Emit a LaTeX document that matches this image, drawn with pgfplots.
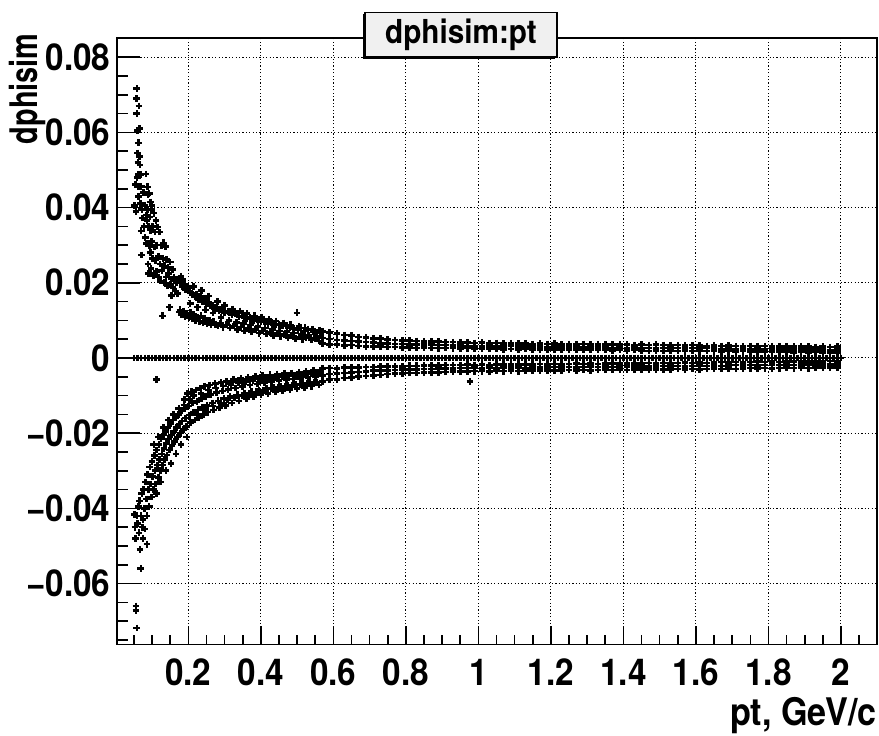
\documentclass[border=0pt]{standalone}
\usepackage{fontspec}
\usepackage{pgfplots}
\usepackage{pgfplotstable}
\pgfplotsset{compat=1.18}
\newfontfamily\rootfont{TeX Gyre Heros}[FakeStretch=0.9]
\newfontfamily\rootfontB{TeX Gyre Heros}[FakeStretch=0.76]
\pgfplotsset{pts/.style={black, only marks, mark=+, mark size=1.7pt, mark options={line width=1.3pt, solid}}}

\pgfplotstableread{
x u1 u2 u3 l1 l2 l3
0.57 0.0071 0.0053 0.0038 -0.0028 -0.0046 -0.0063
0.59 0.0067 0.0050 0.0036 -0.0027 -0.0043 -0.0058
0.61 0.0065 0.0048 0.0035 -0.0028 -0.0041 -0.0057
0.63 0.0061 0.0047 0.0033 -0.0026 -0.0040 -0.0053
0.65 0.0059 0.0045 0.0034 -0.0025 -0.0039 -0.0052
0.67 0.0056 0.0043 0.0032 -0.0026 -0.0037 -0.0049
0.69 0.0055 0.0042 0.0031 -0.0024 -0.0036 -0.0048
0.71 0.0052 0.0041 0.0030 -0.0024 -0.0034 -0.0046
0.73 0.0051 0.0039 0.0030 -0.0023 -0.0034 -0.0045
0.75 0.0049 0.0039 0.0029 -0.0022 -0.0033 -0.0043
0.77 0.0048 0.0037 0.0029 -0.0023 -0.0032 -0.0042
0.79 0.0047 0.0037 0.0028 -0.0022 -0.0031 -0.0041
0.81 0.0046 0.0036 0.0028 -0.0021 -0.0031 -0.0040
0.83 0.0045 0.0036 0.0027 -0.0021 -0.0030 -0.0040
0.85 0.0044 0.0035 0.0028 -0.0020 -0.0029 -0.0039
0.87 0.0043 0.0035 0.0027 -0.0020 -0.0029 -0.0038
0.89 0.0043 0.0034 0.0026 -0.0020 -0.0028 -0.0038
0.91 0.0042 0.0034 0.0027 -0.0019 -0.0028 -0.0037
0.93 0.0042 0.0033 0.0026 -0.0019 -0.0028 -0.0036
0.95 0.0041 0.0033 0.0025 -0.0019 -0.0027 -0.0036
0.97 0.0041 0.0032 0.0026 -0.0018 -0.0027 -0.0036
0.99 0.0040 0.0032 0.0025 -0.0019 -0.0026 -0.0035
1.01 0.0041 0.0031 0.0024 -0.0018 -0.0028 -0.0035
1.03 0.0039 0.0032 0.0025 -0.0019 -0.0026 -0.0036
1.05 0.0040 0.0030 0.0024 -0.0018 -0.0027 -0.0034
1.07 0.0038 0.0031 0.0023 -0.0017 -0.0026 -0.0035
1.09 0.0039 0.0032 0.0024 -0.0018 -0.0025 -0.0034
1.11 0.0038 0.0030 0.0023 -0.0017 -0.0026 -0.0035
1.13 0.0039 0.0031 0.0024 -0.0018 -0.0027 -0.0034
1.15 0.0037 0.0030 0.0023 -0.0017 -0.0025 -0.0033
1.17 0.0038 0.0031 0.0022 -0.0016 -0.0026 -0.0034
1.19 0.0037 0.0029 0.0023 -0.0017 -0.0025 -0.0033
1.21 0.0038 0.0030 0.0022 -0.0016 -0.0024 -0.0034
1.23 0.0036 0.0029 0.0023 -0.0017 -0.0025 -0.0033
1.25 0.0037 0.0030 0.0022 -0.0016 -0.0024 -0.0032
1.27 0.0036 0.0028 0.0021 -0.0015 -0.0025 -0.0033
1.29 0.0037 0.0029 0.0022 -0.0016 -0.0024 -0.0032
1.31 0.0036 0.0028 0.0021 -0.0015 -0.0023 -0.0033
1.33 0.0035 0.0029 0.0022 -0.0016 -0.0024 -0.0032
1.35 0.0036 0.0028 0.0021 -0.0015 -0.0023 -0.0031
1.37 0.0035 0.0027 0.0020 -0.0014 -0.0024 -0.0032
1.39 0.0036 0.0028 0.0021 -0.0015 -0.0023 -0.0031
1.41 0.0035 0.0027 0.0020 -0.0014 -0.0022 -0.0032
1.43 0.0034 0.0028 0.0021 -0.0015 -0.0023 -0.0031
1.45 0.0035 0.0027 0.0020 -0.0014 -0.0022 -0.0030
1.47 0.0034 0.0026 0.0019 -0.0013 -0.0023 -0.0031
1.49 0.0035 0.0027 0.0020 -0.0014 -0.0022 -0.0030
1.51 0.0034 0.0026 0.0019 -0.0013 -0.0021 -0.0031
1.53 0.0033 0.0027 0.0020 -0.0014 -0.0022 -0.0030
1.55 0.0034 0.0026 0.0019 -0.0013 -0.0021 -0.0029
1.57 0.0033 0.0025 0.0018 -0.0012 -0.0022 -0.0030
1.59 0.0034 0.0026 0.0019 -0.0013 -0.0021 -0.0029
1.61 0.0033 0.0025 0.0018 -0.0012 -0.0020 -0.0030
1.63 0.0032 0.0026 0.0019 -0.0013 -0.0021 -0.0029
1.65 0.0033 0.0025 0.0018 -0.0012 -0.0020 -0.0028
1.67 0.0032 0.0024 0.0017 -0.0011 -0.0021 -0.0029
1.69 0.0033 0.0025 0.0018 -0.0012 -0.0020 -0.0028
1.71 0.0032 0.0024 0.0017 -0.0011 -0.0019 -0.0029
1.73 0.0031 0.0025 0.0018 -0.0012 -0.0020 -0.0028
1.75 0.0032 0.0024 0.0017 -0.0011 -0.0019 -0.0027
1.77 0.0031 0.0023 0.0016 -0.0010 -0.0020 -0.0028
1.79 0.0032 0.0024 0.0017 -0.0011 -0.0019 -0.0027
1.81 0.0031 0.0023 0.0016 -0.0010 -0.0018 -0.0028
1.83 0.0030 0.0024 0.0017 -0.0011 -0.0019 -0.0027
1.85 0.0031 0.0023 0.0016 -0.0010 -0.0018 -0.0026
1.87 0.0030 0.0022 0.0015 -0.0009 -0.0019 -0.0027
1.89 0.0031 0.0023 0.0016 -0.0010 -0.0018 -0.0026
1.91 0.0030 0.0022 0.0015 -0.0009 -0.0017 -0.0027
1.93 0.0029 0.0023 0.0016 -0.0010 -0.0018 -0.0026
1.95 0.0030 0.0022 0.0015 -0.0009 -0.0017 -0.0025
1.97 0.0029 0.0021 0.0014 -0.0008 -0.0018 -0.0026
1.99 0.0030 0.0022 0.0015 -0.0009 -0.0017 -0.0025
}\bandtable

\pgfplotstableread{
x y
0.052 0.0405
0.055 0.0462
0.056 0.0390
0.057 0.0690
0.058 0.0716
0.058 0.0650
0.059 0.0480
0.060 0.0605
0.060 0.0545
0.061 0.0520
0.062 0.0488
0.062 0.0572
0.063 0.0456
0.063 0.0429
0.064 0.0670
0.065 0.0610
0.066 0.0535
0.067 0.0513
0.068 0.0410
0.069 0.0488
0.070 0.0456
0.070 0.0338
0.071 0.0274
0.072 0.0395
0.074 0.0372
0.076 0.0440
0.078 0.0350
0.080 0.0405
0.081 0.0320
0.083 0.0489
0.084 0.0380
0.085 0.0305
0.086 0.0365
0.087 0.0455
0.088 0.0395
0.089 0.0250
0.089 0.0435
0.090 0.0350
0.091 0.0225
0.092 0.0438
0.093 0.0300
0.094 0.0375
0.095 0.0280
0.095 0.0415
0.096 0.0340
0.097 0.0238
0.098 0.0395
0.099 0.0310
0.100 0.0405
0.101 0.0265
0.102 0.0350
0.104 0.0220
0.105 0.0385
0.106 0.0295
0.108 0.0335
0.110 0.0260
0.111 0.0365
0.112 0.0230
0.113 0.0300
0.115 0.0348
0.117 0.0215
0.118 0.0270
0.120 0.0335
0.122 0.0250
0.124 0.0205
0.126 0.0300
0.127 0.0232
0.129 0.0112
0.130 0.0265
0.131 0.0306
0.133 0.0200
0.135 0.0245
0.137 0.0296
0.139 0.0215
0.140 0.0262
0.142 0.0192
0.144 0.0240
0.146 0.0225
0.148 0.0135
0.150 0.0255
0.151 0.0195
0.153 0.0210
0.154 0.0166
0.156 0.0235
0.158 0.0188
0.161 0.0215
0.164 0.0178
0.167 0.0200
0.170 0.0172
0.173 0.0210
0.175 0.0122
0.177 0.0128
0.178 0.0200
0.180 0.0217
0.181 0.0115
0.183 0.0190
0.185 0.0208
0.187 0.0125
0.189 0.0195
0.191 0.0110
0.193 0.0182
0.195 0.0118
0.197 0.0190
0.200 0.0178
0.202 0.0108
0.204 0.0186
0.206 0.0120
0.208 0.0173
0.210 0.0105
0.212 0.0168
0.215 0.0115
0.218 0.0162
0.220 0.0100
0.223 0.0170
0.226 0.0108
0.228 0.0155
0.231 0.0098
0.233 0.0165
0.235 0.0112
0.238 0.0150
0.240 0.0095
0.243 0.0158
0.246 0.0105
0.249 0.0145
0.252 0.0092
0.255 0.0148
0.258 0.0100
0.260 0.0138
0.263 0.0088
0.266 0.0140
0.269 0.0096
0.272 0.0132
0.275 0.0090
0.278 0.0135
0.282 0.0085
0.285 0.0125
0.288 0.0092
0.292 0.0128
0.296 0.0082
0.300 0.0120
0.305 0.0088
0.310 0.0124
0.315 0.0080
0.320 0.0115
0.325 0.0085
0.330 0.0118
0.335 0.0076
0.340 0.0110
0.345 0.0082
0.350 0.0112
0.355 0.0072
0.360 0.0105
0.365 0.0078
0.370 0.0108
0.375 0.0070
0.380 0.0100
0.385 0.0075
0.390 0.0102
0.395 0.0066
0.400 0.0096
0.405 0.0072
0.410 0.0098
0.415 0.0064
0.420 0.0092
0.425 0.0068
0.430 0.0094
0.435 0.0060
0.440 0.0088
0.445 0.0065
0.450 0.0090
0.455 0.0058
0.460 0.0085
0.465 0.0062
0.470 0.0086
0.475 0.0055
0.480 0.0080
0.485 0.0060
0.490 0.0078
0.495 0.0052
0.500 0.0120
0.502 0.0075
0.506 0.0056
0.510 0.0080
0.515 0.0050
0.520 0.0072
0.525 0.0055
0.530 0.0076
0.540 0.0048
0.545 0.0070
0.550 0.0052
0.555 0.0068
0.560 0.0045
0.565 0.0066
0.205 0.0145
0.215 0.0190
0.225 0.0135
0.237 0.0180
0.247 0.0128
0.256 0.0165
0.268 0.0120
0.280 0.0150
0.290 0.0108
0.300 0.0140
0.312 0.0100
0.322 0.0130
0.333 0.0095
0.343 0.0125
0.352 0.0092
0.362 0.0118
0.372 0.0088
0.382 0.0112
0.392 0.0084
0.402 0.0108
0.412 0.0080
0.422 0.0102
0.432 0.0076
0.442 0.0098
0.452 0.0072
0.462 0.0093
0.472 0.0070
0.482 0.0088
0.492 0.0066
0.505 0.0084
0.512 0.0062
0.522 0.0080
0.532 0.0060
0.542 0.0076
0.552 0.0058
0.562 0.0074
}\upperlow

\pgfplotstableread{
x y
0.052 -0.0416
0.053 -0.0450
0.054 -0.0480
0.056 -0.0660
0.056 -0.0672
0.058 -0.0718
0.058 -0.0420
0.060 -0.0440
0.062 -0.0395
0.064 -0.0465
0.066 -0.0380
0.067 -0.0510
0.069 -0.0560
0.070 -0.0420
0.072 -0.0360
0.073 -0.0450
0.075 -0.0430
0.075 -0.0480
0.077 -0.0350
0.079 -0.0400
0.080 -0.0455
0.082 -0.0330
0.084 -0.0375
0.086 -0.0420
0.086 -0.0495
0.088 -0.0310
0.090 -0.0350
0.092 -0.0395
0.094 -0.0290
0.096 -0.0335
0.098 -0.0370
0.100 -0.0275
0.102 -0.0315
0.104 -0.0350
0.106 -0.0260
0.108 -0.0300
0.110 -0.0335
0.113 -0.0058
0.113 -0.0245
0.115 -0.0285
0.117 -0.0318
0.119 -0.0230
0.121 -0.0270
0.123 -0.0300
0.125 -0.0215
0.127 -0.0255
0.129 -0.0285
0.131 -0.0205
0.133 -0.0240
0.135 -0.0270
0.137 -0.0195
0.139 -0.0228
0.141 -0.0258
0.144 -0.0185
0.146 -0.0215
0.148 -0.0245
0.151 -0.0175
0.153 -0.0205
0.155 -0.0232
0.158 -0.0165
0.160 -0.0195
0.162 -0.0222
0.165 -0.0158
0.167 -0.0185
0.170 -0.0210
0.173 -0.0150
0.175 -0.0176
0.178 -0.0200
0.181 -0.0140
0.183 -0.0168
0.186 -0.0190
0.189 -0.0110
0.190 -0.0135
0.192 -0.0160
0.195 -0.0182
0.198 -0.0095
0.200 -0.0128
0.203 -0.0152
0.206 -0.0172
0.209 -0.0090
0.212 -0.0120
0.215 -0.0145
0.218 -0.0165
0.221 -0.0085
0.224 -0.0115
0.227 -0.0138
0.230 -0.0158
0.233 -0.0080
0.236 -0.0108
0.239 -0.0132
0.242 -0.0150
0.245 -0.0075
0.248 -0.0102
0.251 -0.0126
0.254 -0.0144
0.258 -0.0072
0.262 -0.0097
0.266 -0.0120
0.270 -0.0138
0.274 -0.0068
0.278 -0.0092
0.282 -0.0114
0.286 -0.0132
0.290 -0.0065
0.294 -0.0088
0.298 -0.0108
0.302 -0.0126
0.306 -0.0062
0.310 -0.0084
0.315 -0.0103
0.320 -0.0120
0.325 -0.0058
0.330 -0.0080
0.335 -0.0098
0.340 -0.0114
0.345 -0.0055
0.350 -0.0076
0.355 -0.0094
0.360 -0.0108
0.365 -0.0052
0.370 -0.0072
0.375 -0.0090
0.380 -0.0103
0.385 -0.0050
0.390 -0.0069
0.395 -0.0086
0.400 -0.0098
0.405 -0.0047
0.410 -0.0066
0.415 -0.0082
0.420 -0.0094
0.425 -0.0045
0.430 -0.0063
0.435 -0.0079
0.440 -0.0090
0.445 -0.0043
0.450 -0.0060
0.455 -0.0076
0.460 -0.0087
0.465 -0.0041
0.470 -0.0058
0.475 -0.0073
0.480 -0.0084
0.485 -0.0040
0.490 -0.0056
0.495 -0.0070
0.500 -0.0081
0.505 -0.0038
0.510 -0.0054
0.515 -0.0068
0.520 -0.0078
0.525 -0.0036
0.530 -0.0052
0.535 -0.0066
0.540 -0.0075
0.545 -0.0034
0.550 -0.0050
0.555 -0.0064
0.560 -0.0072
0.565 -0.0032
0.977 -0.0063
0.105 -0.0230
0.112 -0.0360
0.118 -0.0210
0.124 -0.0330
0.132 -0.0185
0.138 -0.0300
0.145 -0.0165
0.152 -0.0280
0.159 -0.0150
0.166 -0.0255
0.174 -0.0135
0.180 -0.0230
0.188 -0.0125
0.196 -0.0210
0.204 -0.0110
0.214 -0.0100
0.226 -0.0150
0.235 -0.0095
0.247 -0.0135
0.256 -0.0085
0.268 -0.0128
0.276 -0.0080
0.288 -0.0120
0.296 -0.0075
0.308 -0.0112
0.318 -0.0070
0.328 -0.0105
0.338 -0.0066
0.348 -0.0100
0.358 -0.0062
0.368 -0.0095
0.378 -0.0060
0.388 -0.0090
0.398 -0.0057
0.408 -0.0086
0.418 -0.0054
0.428 -0.0082
0.438 -0.0052
0.448 -0.0078
0.458 -0.0050
0.468 -0.0075
0.478 -0.0048
0.488 -0.0072
0.498 -0.0046
0.508 -0.0070
0.518 -0.0044
0.528 -0.0068
0.538 -0.0042
0.548 -0.0066
0.558 -0.0040
}\lowerlow

\begin{document}
\begin{tikzpicture}
\useasboundingbox (0,0) rectangle (439.5pt,367.5pt);
\begin{axis}[
  at={(58.35pt,45.25pt)}, anchor=south west,
  scale only axis, width=380pt, height=303.1pt,
  xmin=0.0025, xmax=2.0985, ymin=-0.0762, ymax=0.085,
  scaled x ticks=false, scaled y ticks=false,
  xtick={0.2,0.4,0.6,0.8,1,1.2,1.4,1.6,1.8,2},
  xticklabels={0.2,0.4,0.6,0.8,1,1.2,1.4,1.6,1.8,2},
  minor xtick={0.05,0.1,0.15,0.25,0.3,0.35,0.45,0.5,0.55,0.65,0.7,0.75,0.85,0.9,0.95,1.05,1.1,1.15,1.25,1.3,1.35,1.45,1.5,1.55,1.65,1.7,1.75,1.85,1.9,1.95,2.05},
  ytick={-0.06,-0.04,-0.02,0,0.02,0.04,0.06,0.08},
  yticklabels={−0.06,−0.04,−0.02,0,0.02,0.04,0.06,0.08},
  minor ytick={-0.075,-0.07,-0.065,-0.055,-0.05,-0.045,-0.035,-0.03,-0.025,-0.015,-0.01,-0.005,0.005,0.01,0.015,0.025,0.03,0.035,0.045,0.05,0.055,0.065,0.07,0.075,0.085},
  tick pos=left, tick align=inside,
  major tick length=11.5pt, minor tick length=5.8pt,
  xtick style={/pgfplots/major tick length=9.2pt,/pgfplots/minor tick length=5pt},
  tick style={black, line width=0.8pt},
  grid=major,
  major grid style={black, line width=0.5pt, dash pattern=on 0.6pt off 1.1pt},
  axis line style={black, line width=0.9pt},
  ticklabel style={font=\rootfont\bfseries\fontsize{18.5}{21}\selectfont},
  xticklabel style={anchor=base, inner sep=0pt, yshift=-20.25pt},
  yticklabel style={anchor=east, inner sep=0pt, xshift=-3pt},
]
\addplot[pts] coordinates {
(0.05,0)(0.06,0)(0.07,0)(0.08,0)(0.09,0)(0.10,0)(0.11,0)(0.12,0)(0.13,0)(0.14,0)
(0.15,0)(0.16,0)(0.17,0)(0.18,0)(0.19,0)(0.20,0)(0.21,0)(0.22,0)(0.23,0)(0.24,0)
(0.25,0)(0.26,0)(0.27,0)(0.28,0)(0.29,0)(0.30,0)(0.31,0)(0.32,0)(0.33,0)(0.34,0)
(0.35,0)(0.36,0)(0.37,0)(0.38,0)(0.39,0)(0.40,0)(0.41,0)(0.42,0)(0.43,0)(0.44,0)
(0.45,0)(0.46,0)(0.47,0)(0.48,0)(0.49,0)(0.50,0)(0.51,0)(0.52,0)(0.53,0)(0.54,0)
(0.55,0)(0.56,0)(0.57,0)(0.58,0)(0.59,0)(0.60,0)(0.61,0)(0.62,0)(0.63,0)(0.64,0)
(0.65,0)(0.66,0)(0.67,0)(0.68,0)(0.69,0)(0.70,0)(0.71,0)(0.72,0)(0.73,0)(0.74,0)
(0.75,0)(0.76,0)(0.77,0)(0.78,0)(0.79,0)(0.80,0)(0.81,0)(0.82,0)(0.83,0)(0.84,0)
(0.85,0)(0.86,0)(0.87,0)(0.88,0)(0.89,0)(0.90,0)(0.91,0)(0.92,0)(0.93,0)(0.94,0)
(0.95,0)(0.96,0)(0.97,0)(0.98,0)(0.99,0)(1.00,0)(1.01,0)(1.02,0)(1.03,0)(1.04,0)
(1.05,0)(1.06,0)(1.07,0)(1.08,0)(1.09,0)(1.10,0)(1.11,0)(1.12,0)(1.13,0)(1.14,0)
(1.15,0)(1.16,0)(1.17,0)(1.18,0)(1.19,0)(1.20,0)(1.21,0)(1.22,0)(1.23,0)(1.24,0)
(1.25,0)(1.26,0)(1.27,0)(1.28,0)(1.29,0)(1.30,0)(1.31,0)(1.32,0)(1.33,0)(1.34,0)
(1.35,0)(1.36,0)(1.37,0)(1.38,0)(1.39,0)(1.40,0)(1.41,0)(1.42,0)(1.43,0)(1.44,0)
(1.45,0)(1.46,0)(1.47,0)(1.48,0)(1.49,0)(1.50,0)(1.51,0)(1.52,0)(1.53,0)(1.54,0)
(1.55,0)(1.56,0)(1.57,0)(1.58,0)(1.59,0)(1.60,0)(1.61,0)(1.62,0)(1.63,0)(1.64,0)
(1.65,0)(1.66,0)(1.67,0)(1.68,0)(1.69,0)(1.70,0)(1.71,0)(1.72,0)(1.73,0)(1.74,0)
(1.75,0)(1.76,0)(1.77,0)(1.78,0)(1.79,0)(1.80,0)(1.81,0)(1.82,0)(1.83,0)(1.84,0)
(1.85,0)(1.86,0)(1.87,0)(1.88,0)(1.89,0)(1.90,0)(1.91,0)(1.92,0)(1.93,0)(1.94,0)
(1.95,0)(1.96,0)(1.97,0)(1.98,0)(1.99,0)(2.00,0)
};
\addplot[pts] table[x=x,y=y] {\upperlow};
\addplot[pts] table[x=x,y=y] {\lowerlow};
\addplot[pts] table[x=x,y=u1] {\bandtable};
\addplot[pts] table[x=x,y=u2] {\bandtable};
\addplot[pts] table[x=x,y=u3] {\bandtable};
\addplot[pts] table[x=x,y=l1] {\bandtable};
\addplot[pts] table[x=x,y=l2] {\bandtable};
\addplot[pts] table[x=x,y=l3] {\bandtable};
\end{axis}
% title box with shadow
\fill[black] (181.7pt,338.2pt) rectangle (277.7pt,360.35pt);
\draw[black, line width=0.6pt, fill={rgb,255:red,240;green,240;blue,240}] (182.5pt,339pt) rectangle (278.5pt,361.15pt);
\node[font=\rootfont\bfseries\fontsize{16.5}{19}\selectfont, inner sep=0pt] at (230.5pt,350pt) {dphisim:pt};
% axis titles
\node[font=\rootfont\bfseries\fontsize{19}{22}\selectfont, inner sep=0pt, anchor=base east] at (438.5pt,5pt) {pt, GeV/c};
\node[font=\rootfontB\bfseries\fontsize{19}{22}\selectfont, inner sep=0pt, anchor=base east, rotate=90] at (19pt,351pt) {dphisim};
\end{tikzpicture}
\end{document}
